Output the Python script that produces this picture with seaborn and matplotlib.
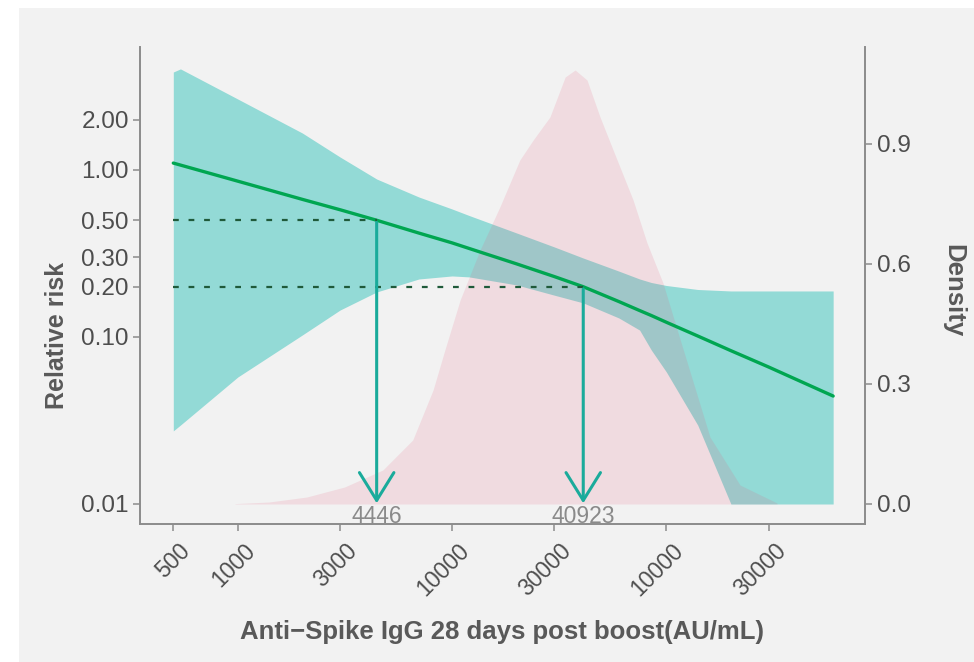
import matplotlib
matplotlib.use("Agg")
import matplotlib.pyplot as plt
import matplotlib.transforms as mtransforms
from matplotlib.patches import Rectangle
from matplotlib.ticker import NullLocator
import seaborn as sns

# fitted relative risk and its confidence band
igg = [500, 540, 1000, 2000, 3000, 4446, 7000, 10000, 12000, 20000, 30000,
       40923, 60000, 75000, 85000, 100000, 140000, 200000, 300000, 600000]
rr = [1.10, 1.07, 0.857, 0.667, 0.578, 0.50, 0.419, 0.366, 0.339, 0.274, 0.230,
      0.20, 0.163, 0.144, 0.1345, 0.1225, 0.1014, 0.0828, 0.0661, 0.0443]
rr_upper = [3.86, 4.03, 2.66, 1.665, 1.196, 0.883, 0.689, 0.584, 0.534, 0.4195, 0.346,
            0.297, 0.248, 0.2225, 0.212, 0.2034, 0.1925, 0.1886, 0.1886, 0.1886]
rr_lower = [0.0274, 0.0297, 0.0576, 0.1028, 0.145, 0.186, 0.2225, 0.232, 0.229, 0.205, 0.178,
            0.160, 0.130, 0.110, 0.0836, 0.0617, 0.0297, 0.01, 0.01, 0.01]

# density of the antibody level
dens_x = [970, 1400, 2100, 3150, 4750, 6550, 8150, 9250, 10900, 13500, 16700, 20700,
          23900, 28600, 33700, 37500, 42600, 49000, 56400, 69900, 81200, 96400,
          115700, 159700, 220600, 328300]
dens = [0.001, 0.005, 0.0175, 0.0425, 0.085, 0.16, 0.285, 0.385, 0.51, 0.635, 0.7425, 0.86,
        0.91, 0.9675, 1.0675, 1.085, 1.06, 0.9675, 0.885, 0.76, 0.6525, 0.5525,
        0.4125, 0.1675, 0.0475, 0.0025]

# thresholds
rr_levels = [0.5, 0.2]
cutoffs = [4446, 40923]

x_ticks = [500, 1000, 3000, 10000, 30000, 100000, 300000]
x_labels = ["500", "1000", "3000", "10000", "30000", "10000", "30000"]
rr_ticks = [0.01, 0.1, 0.2, 0.3, 0.5, 1, 2]
rr_labels = ["0.01", "0.10", "0.20", "0.30", "0.50", "1.00", "2.00"]
dens_ticks = [0.0, 0.3, 0.6, 0.9]
dens_labels = ["0.0", "0.3", "0.6", "0.9"]

sns.set_theme(style="white")
plt.rcParams["font.family"] = ["Liberation Sans", "DejaVu Sans"]

W, H = 974, 662
fig = plt.figure(figsize=(W / 100, H / 100), dpi=100, facecolor="white")
fig.add_artist(Rectangle((19 / W, 0), 1 - 19 / W, 1 - 8 / H, transform=fig.transFigure,
                         facecolor="#f2f2f2", edgecolor="none", zorder=-10))

ax = fig.add_axes([140 / W, 1 - 524 / H, 725 / W, 477 / H])
ax.set_facecolor("none")
ax.set_xscale("log")
ax.set_yscale("log")
ylim_rr = (0.00759, 5.45)

# band
ax.fill_between(igg, rr_lower, rr_upper, color="#93dad6", lw=0)

# density on the right axis
ax2 = ax.twinx()
ax2.fill_between(dens_x, 0, dens, color="#e5597a", alpha=0.15, lw=0)

# top layer for the fitted curve and thresholds
ax3 = ax.twinx()
ax3.set_yscale("log")
sns.lineplot(x=igg, y=rr, ax=ax3, color="#00a651", lw=2.4)
for lvl, cut in zip(rr_levels, cutoffs):
    ax3.plot([igg[0], cut], [lvl, lvl], color="#1f5a3a", lw=1.6, ls=(0, (2.6, 4.4)))
    ax3.annotate("", xy=(cut, 0.0101), xytext=(cut, lvl * 0.97),
                 arrowprops=dict(arrowstyle="->,head_length=1.0,head_width=0.62",
                                 color="#1aab9b", lw=2.2, mutation_scale=20,
                                 shrinkA=0, shrinkB=0))
    ax3.text(cut, 0.0099, str(cut), ha="center", va="top", color="#8a8a8a", fontsize=16.5)

for a in (ax, ax3):
    a.set_ylim(*ylim_rr)
ax.set_xlim(349.6, 844800)
ax2.set_ylim(-0.05, 1.1425)
ax3.axis("off")

spine_col = "#8c8c8c"
ax.set_xticks(x_ticks)
ax.set_xticklabels(x_labels)
ax.set_yticks(rr_ticks)
ax.set_yticklabels(rr_labels)
ax.xaxis.set_minor_locator(NullLocator())
ax.yaxis.set_minor_locator(NullLocator())
ax2.set_yticks(dens_ticks)
ax2.set_yticklabels(dens_labels)

for a in (ax, ax2):
    for s in a.spines.values():
        s.set_visible(False)
        s.set_color(spine_col)
        s.set_linewidth(1.4)
ax.spines["left"].set_visible(True)
ax.spines["bottom"].set_visible(True)
ax2.spines["right"].set_visible(True)

ax.tick_params(axis="y", direction="out", length=5, width=1.1, color=spine_col,
               labelcolor="#4d4d4d", labelsize=17.5, pad=3, left=True)
ax.tick_params(axis="x", direction="out", length=5, width=1.1, color=spine_col,
               labelcolor="#4d4d4d", labelsize=16.5, pad=6, bottom=True)
ax2.tick_params(axis="y", direction="out", length=5, width=1.1, color=spine_col,
                labelcolor="#4d4d4d", labelsize=17.5, pad=4, right=True)

offset = mtransforms.ScaledTranslation(4 / 72, 0, fig.dpi_scale_trans)
for lab in ax.get_xticklabels():
    lab.set_rotation(45)
    lab.set_ha("right")
    lab.set_va("top")
    lab.set_rotation_mode("anchor")
    lab.set_transform(lab.get_transform() + offset)

ax.set_xlabel("")
ax.set_ylabel("")
ax2.set_ylabel("")
ax3.set_ylabel("")

fig.text(502.5 / W, 1 - 632 / H, "Anti\u2212Spike IgG 28 days post boost(AU/mL)",
         ha="center", va="center", fontsize=18.5, fontweight="bold", color="#595959")
fig.text(57 / W, 1 - 335 / H, "Relative risk", rotation=90, ha="center", va="center",
         fontsize=18, fontweight="bold", color="#595959")
fig.text(953 / W, 1 - 291 / H, "Density", rotation=270, ha="center", va="center",
         fontsize=18.5, fontweight="bold", color="#595959")

fig.savefig("out.png", dpi=100, facecolor="white")
